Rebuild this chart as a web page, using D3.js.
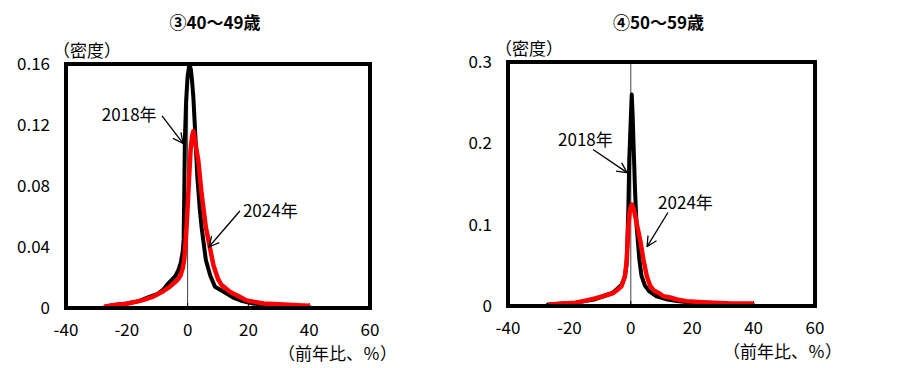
<!DOCTYPE html>
<html>
<head>
<meta charset="utf-8">
<script src="https://cdn.jsdelivr.net/npm/d3@7"></script>
<style>
  body { margin: 0; background: #fff; }
  svg text { font-family: "Noto Sans CJK JP", "DejaVu Sans", sans-serif; fill: #000; }
</style>
</head>
<body>
<svg id="chart" width="902" height="368"></svg>
<script>
// x axis ticks (前年比、%) shared by both panels
const xTicks = [-40, -20, 0, 20, 40, 60];
const xTickLabels = ["-40", "-20", "0", "20", "40", "60"];

// ③40～49歳
const titleLeft = "③40～49歳";
const yTicksLeft = [0, 0.04, 0.08, 0.12, 0.16];
const yTickLabelsLeft = ["0", "0.04", "0.08", "0.12", "0.16"];
const left2018 = [
    [-27, 0.001], [-24, 0.002], [-20, 0.003], [-16, 0.0045], [-12.4, 0.0075], [-10, 0.009],
    [-8, 0.012], [-6.4, 0.016], [-4, 0.021], [-3, 0.025], [-2.2, 0.03], [-1.6, 0.037],
    [-1.3, 0.045], [-1.1, 0.075], [-0.9, 0.11], [-0.5, 0.135], [0, 0.152], [0.6, 0.16],
    [1.1, 0.156], [1.5, 0.148], [1.9, 0.138], [2.4, 0.119], [3.2, 0.086], [4.0, 0.065],
    [4.6, 0.053], [6.0, 0.0315], [7.5, 0.021], [9.0, 0.014], [12, 0.0105], [15, 0.0068],
    [18, 0.0045], [21.5, 0.003], [25, 0.002], [30, 0.0015], [35, 0.001], [40, 0.0008]
];
const left2024 = [
    [-27, 0.001], [-24, 0.002], [-20, 0.0028], [-15, 0.005], [-11.3, 0.0075], [-8, 0.011],
    [-5.8, 0.014], [-3.5, 0.018], [-2.4, 0.021], [-1.6, 0.026], [-1.1, 0.032], [-0.7, 0.042],
    [-0.3, 0.055], [0.1, 0.07], [0.5, 0.086], [1.0, 0.104], [1.5, 0.113], [1.9, 0.116],
    [2.5, 0.109], [3.5, 0.097], [4.6, 0.075], [6.0, 0.053], [7.1, 0.042], [8.5, 0.028],
    [10, 0.019], [11.2, 0.015], [14, 0.0105], [17, 0.0075], [19.4, 0.005], [22, 0.004],
    [25, 0.003], [30, 0.0025], [34.7, 0.002], [39.6, 0.0015]
];

// ④50～59歳
const titleRight = "④50～59歳";
const yTicksRight = [0, 0.1, 0.2, 0.3];
const yTickLabelsRight = ["0", "0.1", "0.2", "0.3"];
const right2018 = [
    [-27, 0.002], [-22, 0.003], [-18, 0.004], [-15, 0.006], [-12, 0.008], [-9, 0.012],
    [-6, 0.016], [-4.5, 0.021], [-3, 0.026], [-2, 0.035], [-1.4, 0.05], [-1.1, 0.08],
    [-0.8, 0.12], [-0.5, 0.18], [0, 0.23], [0.3, 0.26], [0.6, 0.235], [0.8, 0.21],
    [1.1, 0.175], [1.4, 0.14], [1.9, 0.098], [2.8, 0.057], [3.5, 0.037], [4.6, 0.025],
    [6, 0.018], [8.4, 0.012], [12, 0.008], [15, 0.006], [20, 0.004], [25, 0.003],
    [30, 0.002], [35, 0.0015], [40, 0.001]
];
const right2024 = [
    [-26.3, 0.002], [-22, 0.003], [-18, 0.004], [-15.5, 0.006], [-12, 0.009], [-9, 0.012],
    [-5.7, 0.016], [-4.3, 0.02], [-3, 0.0244], [-1.9, 0.037], [-1.3, 0.057], [-0.8, 0.098],
    [-0.3, 0.118], [0.3, 0.125], [1.0, 0.119], [2.1, 0.098], [3.2, 0.078], [4.1, 0.057],
    [5.2, 0.037], [6.3, 0.025], [7.5, 0.019], [9.5, 0.015], [10.6, 0.012], [12.8, 0.0105],
    [15, 0.008], [18.2, 0.006], [22, 0.005], [27, 0.004], [33, 0.003], [39.4, 0.003]
];

// series labels and where they sit (data units): text pos, arrow start, arrow end
const seriesNames = ["2018年", "2024年"];
const leftNotes = [
    { text: [-28.2, 0.1266], from: [-8.4, 0.126], to: [-1.5, 0.108] },
    { text: [18.2, 0.0636], from: [17.2, 0.0636], to: [7.0, 0.040] }
];
const rightNotes = [
    { text: [-23.7, 0.2048], from: [-12.3, 0.1925], to: [-1.2, 0.164] },
    { text: [8.9, 0.127], from: [12.1, 0.115], to: [5.3, 0.073] }
];

const svg = d3.select("#chart");

// open V arrowhead
svg.append("defs").append("marker")
    .attr("id", "arrow")
    .attr("viewBox", "0 0 12 12")
    .attr("refX", 11).attr("refY", 6)
    .attr("markerWidth", 12).attr("markerHeight", 12)
    .attr("markerUnits", "userSpaceOnUse")
    .attr("orient", "auto")
    .append("path")
    .attr("d", "M1,1 L11,6 L1,11")
    .attr("fill", "none")
    .attr("stroke", "#000")
    .attr("stroke-width", 1.3);

/**
 * draws one density panel
 */
var drawPanel = function(p) {
    var x = d3.scaleLinear().domain([-40, 60]).range([p.left, p.right]);
    var y = d3.scaleLinear().domain([0, p.yMax]).range([p.bottom, p.top]);
    var g = svg.append("g");

    // title
    g.append("text")
        .text(p.title)
        .attr("x", (p.left + p.right) / 2 - 3)
        .attr("y", 29)
        .attr("text-anchor", "middle")
        .style("font-size", "17px")
        .style("font-weight", "bold");

    // zero line
    g.append("line")
        .attr("x1", x(0)).attr("x2", x(0))
        .attr("y1", p.top).attr("y2", p.bottom)
        .attr("stroke", "#444").attr("stroke-width", 1);

    // small inner ticks on x axis
    g.selectAll(".xt").data(xTicks).enter().append("line")
        .attr("x1", d => x(d)).attr("x2", d => x(d))
        .attr("y1", p.bottom).attr("y2", p.bottom - 5)
        .attr("stroke", "#000").attr("stroke-width", 1);

    var line = d3.line()
        .x(d => x(d[0]))
        .y(d => y(d[1]));

    g.append("path").datum(p.s2018)
        .attr("d", line)
        .attr("fill", "none").attr("stroke", "#000")
        .attr("stroke-width", 4).attr("stroke-linejoin", "round").attr("stroke-linecap", "round");
    g.append("path").datum(p.s2024)
        .attr("d", line)
        .attr("fill", "none").attr("stroke", "#ff0000")
        .attr("stroke-width", 4.5).attr("stroke-linejoin", "round").attr("stroke-linecap", "round");

    // frame
    g.append("rect")
        .attr("x", p.left).attr("y", p.top)
        .attr("width", p.right - p.left).attr("height", p.bottom - p.top)
        .attr("fill", "none").attr("stroke", "#000").attr("stroke-width", 4);

    // y tick labels
    g.selectAll(".yl").data(p.yTicks).enter().append("text")
        .text((d, i) => p.yLabels[i])
        .attr("x", p.left - 16)
        .attr("y", d => y(d))
        .attr("dy", "0.36em")
        .attr("text-anchor", "end")
        .style("font-size", "17px");

    // x tick labels
    g.selectAll(".xl").data(xTicks).enter().append("text")
        .text((d, i) => xTickLabels[i])
        .attr("x", d => x(d))
        .attr("y", p.bottom + 22)
        .attr("dy", "0.36em")
        .attr("text-anchor", "middle")
        .style("font-size", "17px");

    // axis titles
    g.append("text")
        .text("（密度）")
        .attr("x", p.left - 13)
        .attr("y", p.top - 7)
        .style("font-size", "17px");
    g.append("text")
        .text("（前年比、％）")
        .attr("x", p.right + 27)
        .attr("y", p.bottom + 52)
        .attr("text-anchor", "end")
        .style("font-size", "17px");

    // series labels with arrows
    p.notes.forEach((n, i) => {
        g.append("text")
            .text(seriesNames[i])
            .attr("x", x(n.text[0]))
            .attr("y", y(n.text[1]))
            .attr("dy", "0.36em")
            .style("font-size", "17px");
        g.append("line")
            .attr("x1", x(n.from[0])).attr("y1", y(n.from[1]))
            .attr("x2", x(n.to[0])).attr("y2", y(n.to[1]))
            .attr("stroke", "#000").attr("stroke-width", 1.3)
            .attr("marker-end", "url(#arrow)");
    });
}

drawPanel({
    title: titleLeft, left: 66, right: 370, top: 64, bottom: 308, yMax: 0.16,
    yTicks: yTicksLeft, yLabels: yTickLabelsLeft,
    s2018: left2018, s2024: left2024, notes: leftNotes
});
drawPanel({
    title: titleRight, left: 508, right: 815, top: 62, bottom: 306, yMax: 0.3,
    yTicks: yTicksRight, yLabels: yTickLabelsRight,
    s2018: right2018, s2024: right2024, notes: rightNotes
});
</script>
</body>
</html>
